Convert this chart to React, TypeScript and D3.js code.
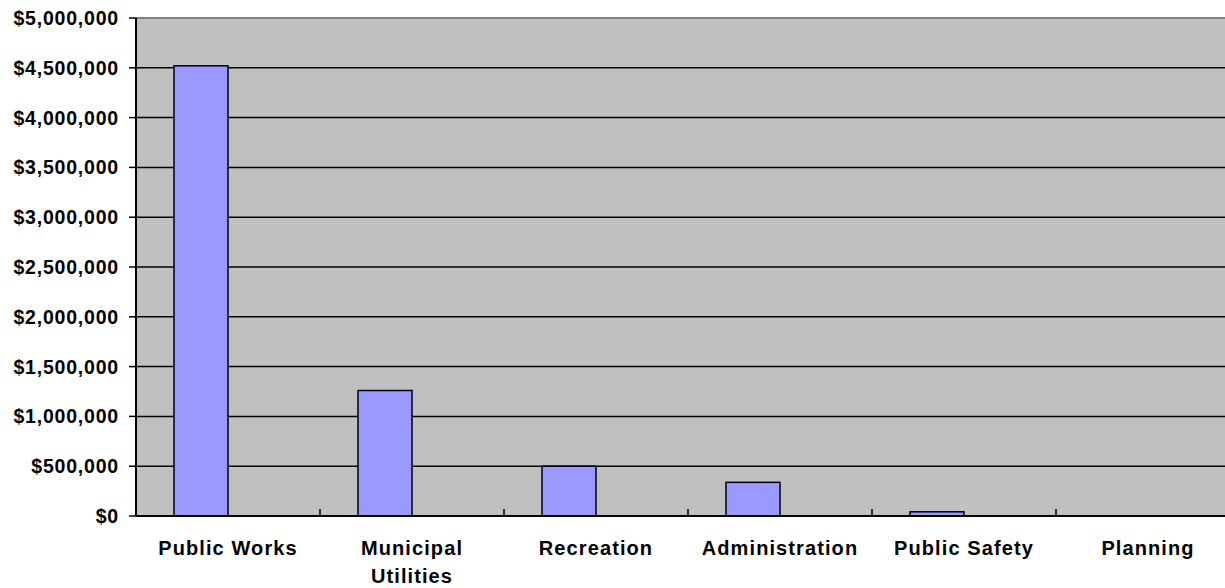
import React, { useEffect, useRef } from 'react';
import * as d3 from 'd3';

const categories = ['Public Works', 'Municipal Utilities', 'Recreation', 'Administration', 'Public Safety', 'Planning'];
const series = ['Budget', 'Other'];
const budgetValues = [4520000, 1260000, 500000, 338000, 42000, 0];
const otherValues = [0, 0, 0, 0, 0, 0];
const yTicks = [0, 500000, 1000000, 1500000, 2000000, 2500000, 3000000, 3500000, 4000000, 4500000, 5000000];

const App: React.FC = () => {
  const svgRef = useRef<SVGSVGElement>(null);

  useEffect(() => {
    if (!svgRef.current) return;
    const svg = d3.select(svgRef.current);
    svg.selectAll('*').remove();

    const left = 136;
    const right = 1240;
    const top = 18;
    const bottom = 516;
    const font = 'Liberation Sans, Arial, sans-serif';

    const x = d3.scaleBand<string>().domain(categories).range([left, right]).padding(0);
    const inner = d3.scaleBand<string>().domain(series).range([0, x.bandwidth()])
      .paddingInner(0).paddingOuter(0.7037);
    const y = d3.scaleLinear().domain([0, 5000000]).range([bottom, top]);

    // plot area
    svg.append('rect')
      .attr('x', left).attr('y', top)
      .attr('width', right - left).attr('height', bottom - top)
      .attr('fill', '#c0c0c0');

    // gridlines
    svg.append('g')
      .selectAll('line')
      .data(yTicks.filter(t => t > 0 && t < 5000000))
      .enter()
      .append('line')
      .attr('x1', left).attr('x2', right)
      .attr('y1', d => y(d)).attr('y2', d => y(d))
      .attr('stroke', '#000').attr('stroke-width', 1.5);

    // top border
    svg.append('line')
      .attr('x1', left).attr('x2', right)
      .attr('y1', top).attr('y2', top)
      .attr('stroke', '#808080').attr('stroke-width', 2);

    // bars
    const rows = categories.map((c, i) => ({ c, vals: [budgetValues[i], otherValues[i]] }));
    rows.forEach(r => {
      r.vals.forEach((v, j) => {
        if (v <= 0) return;
        svg.append('rect')
          .attr('x', (x(r.c) as number) + (inner(series[j]) as number))
          .attr('y', y(v))
          .attr('width', inner.bandwidth())
          .attr('height', y(0) - y(v))
          .attr('fill', '#9999ff')
          .attr('stroke', '#000')
          .attr('stroke-width', 1.5);
      });
    });

    // axes lines
    svg.append('line')
      .attr('x1', left).attr('x2', left)
      .attr('y1', top).attr('y2', bottom)
      .attr('stroke', '#000').attr('stroke-width', 2);
    svg.append('line')
      .attr('x1', left).attr('x2', right)
      .attr('y1', bottom).attr('y2', bottom)
      .attr('stroke', '#000').attr('stroke-width', 2);

    // y ticks + labels
    const yg = svg.append('g');
    yTicks.forEach(t => {
      yg.append('line')
        .attr('x1', left - 7).attr('x2', left)
        .attr('y1', y(t)).attr('y2', y(t))
        .attr('stroke', '#000').attr('stroke-width', 1.5);
      yg.append('text')
        .attr('x', 119).attr('y', y(t))
        .attr('dy', '0.36em')
        .attr('text-anchor', 'end')
        .attr('font-family', font)
        .attr('font-weight', 'bold')
        .attr('font-size', 19.5)
        .attr('letter-spacing', '0.8px')
        .text(d3.format('$,')(t));
    });

    // x ticks (inward)
    categories.slice(1).forEach(c => {
      svg.append('line')
        .attr('x1', x(c) as number).attr('x2', x(c) as number)
        .attr('y1', bottom - 7).attr('y2', bottom)
        .attr('stroke', '#000').attr('stroke-width', 1.5);
    });

    // x labels with wrapping
    const maxW = 170;
    categories.forEach(c => {
      const cx = (x(c) as number) + x.bandwidth() / 2;
      const text = svg.append('text')
        .attr('x', cx).attr('y', 555)
        .attr('text-anchor', 'middle')
        .attr('font-family', font)
        .attr('font-weight', 'bold')
        .attr('font-size', 20)
        .attr('letter-spacing', '1.1px');
      const words = c.split(' ');
      let line: string[] = [];
      let tspan = text.append('tspan').attr('x', cx).attr('dy', 0);
      words.forEach(w => {
        line.push(w);
        tspan.text(line.join(' '));
        const node = tspan.node() as SVGTextContentElement;
        if (node.getComputedTextLength() > maxW && line.length > 1) {
          line.pop();
          tspan.text(line.join(' '));
          line = [w];
          tspan = text.append('tspan').attr('x', cx).attr('dy', 28).text(w);
        }
      });
    });
  }, []);

  return (
    <div style={{ position: 'absolute', left: 0, top: 0, width: 1225, height: 588, overflow: 'hidden', background: '#fff' }}>
      <svg ref={svgRef} width={1225} height={588} style={{ display: 'block' }}></svg>
    </div>
  );
};

export default App;
